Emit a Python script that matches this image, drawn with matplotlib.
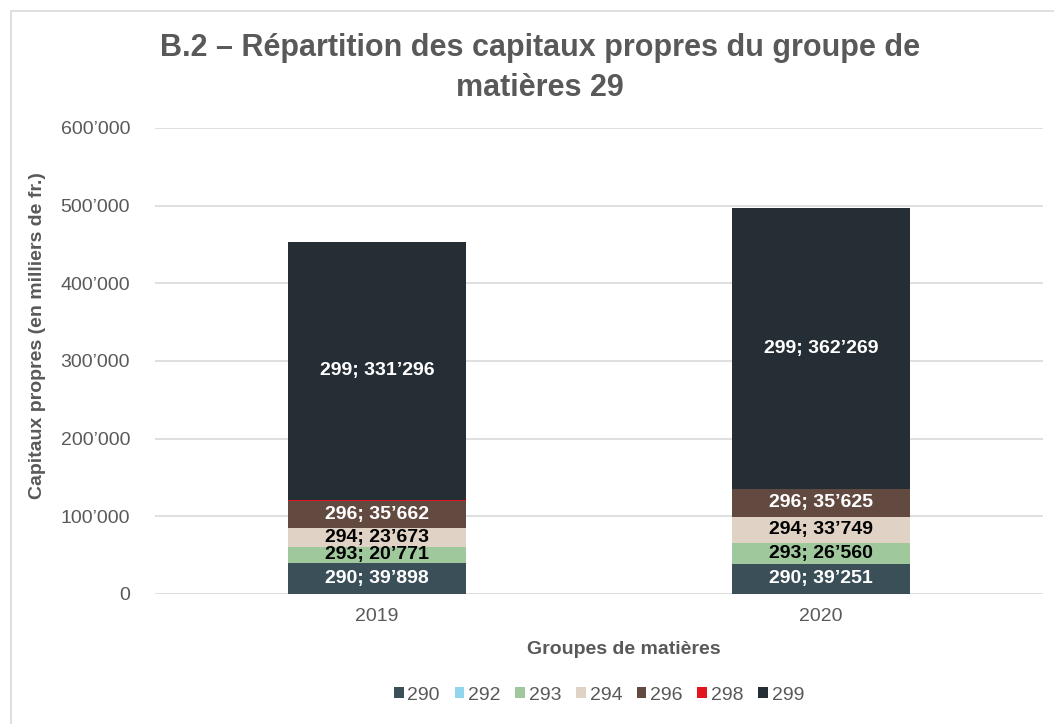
import matplotlib
matplotlib.use("Agg")
import matplotlib.pyplot as plt
import numpy as np

# data
years = ["2019", "2020"]
groups = ["290", "292", "293", "294", "296", "298", "299"]
v290 = [39898, 39251]
v292 = [0, 0]
v293 = [20771, 26560]
v294 = [23673, 33749]
v296 = [35662, 35625]
v298 = [1500, 0]
v299 = [331296, 362269]
colors = ["#3B4F58", "#92D5EE", "#A0C89D", "#E0D3C6", "#634A40", "#E3161E", "#252E35"]
label_colors = ["white", "black", "black", "black", "white", "white", "white"]

plt.rcParams['font.family'] = ['Liberation Sans', 'DejaVu Sans']
grey = "#595959"

fig = plt.figure(figsize=(10.54, 7.24), dpi=100)
ax = fig.add_axes([155/1054, 1-594/724, 888/1054, 466/724])

# light border of the chart area (right/bottom edges fall outside the image)
fig.patches.append(plt.Rectangle((11/1054, -0.1), 1.2, 1-11/724+0.1, transform=fig.transFigure,
                                 fill=False, edgecolor="#D9D9D9", linewidth=1.2))

x = np.arange(len(years))
series = [v290, v292, v293, v294, v296, v298, v299]
bottom = np.zeros(len(years))
for name, vals, col, lc in zip(groups, series, colors, label_colors):
    vals = np.array(vals, dtype=float)
    ax.bar(x, vals, 0.4, bottom=bottom, color=col, label=name, zorder=3)
    for xi, b, v in zip(x, bottom, vals):
        if v > 10000:
            txt = f"{name}; {int(v):,}".replace(",", "\u2019")
            ax.text(xi, b + v/2, txt, ha="center", va="center", color=lc,
                    fontsize=14, fontweight="bold", zorder=4)
    bottom += vals

ax.set_xlim(-0.5, 1.5)
ax.set_ylim(0, 600000)
ax.set_yticks(np.arange(0, 600001, 100000))
ax.set_yticklabels(["0"] + [f"{v//1000}\u2019000" for v in range(100000, 600001, 100000)])
ax.set_xticks(x)
ax.set_xticklabels(years)
ax.tick_params(axis="both", length=0, labelsize=14, labelcolor=grey)
ax.tick_params(axis="y", pad=18)
ax.tick_params(axis="x", pad=10)
ax.grid(axis="y", color="#D9D9D9", linewidth=1.2, zorder=0)
for s in ax.spines.values():
    s.set_visible(False)

fig.text(38/1054, 1-336/724, "Capitaux propres (en milliers de fr.)", rotation=90,
         ha="center", va="center", fontsize=14, fontweight="bold", color=grey)
fig.text(624/1054, 1-650/724, "Groupes de matières", ha="center", va="center",
         fontsize=14, fontweight="bold", color=grey)
fig.text(540/1054, 1-68/724, "B.2 \u2013 Répartition des capitaux propres du groupe de\nmatières 29",
         ha="center", va="center", fontsize=22, fontweight="bold", color=grey,
         linespacing=1.42)

ax.legend(loc="center", bbox_to_anchor=(599/1054, 1-695/724), bbox_transform=fig.transFigure,
          ncol=7, frameon=False, fontsize=14, labelcolor=grey, handlelength=0.5,
          handleheight=0.5, handletextpad=0.2, columnspacing=0.75)

fig.savefig("out.png", dpi=100)
